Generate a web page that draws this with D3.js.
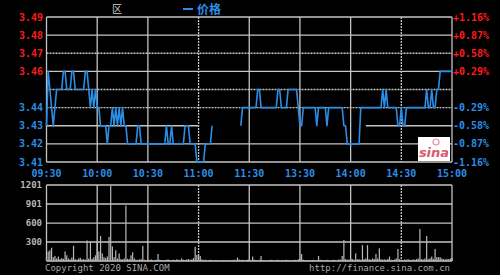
<!DOCTYPE html>
<html>
<head>
<meta charset="utf-8">
<script src="https://cdn.jsdelivr.net/npm/d3@7"></script>
<style>
  html, body { margin: 0; padding: 0; background: #000; }
  svg { display: block; }
</style>
</head>
<body>
<script>
// minute index 0..240 (09:30-11:30, 13:00-15:00)
var timeTicks = [0, 30, 60, 90, 120, 150, 180, 210, 240];
var timeLabels = ["09:30", "10:00", "10:30", "11:00", "11:30", "13:30", "14:00", "14:30", "15:00"];
var priceTicks = [3.49, 3.48, 3.47, 3.46, 3.45, 3.44, 3.43, 3.42, 3.41];
var priceLabels = ["3.49", "3.48", "3.47", "3.46", "", "3.44", "3.43", "3.42", "3.41"];
var pctLabels = ["+1.16%", "+0.87%", "+0.58%", "+0.29%", "", "-0.29%", "-0.58%", "-0.87%", "-1.16%"];
var dottedPrices = [3.47, 3.45, 3.44];
var dottedTimes = [90, 210];
var gapLevel = 3.43, gapRange = [90, 189];
var volTicks = [1201, 901, 600, 300];
var prevClose = 3.45;

var price = [
  3.43, 3.46, 3.45, 3.44, 3.43, 3.44, 3.45, 3.45, 3.45, 3.45,
  3.46, 3.46, 3.45, 3.45, 3.45, 3.46, 3.46, 3.45, 3.45, 3.45,
  3.45, 3.45, 3.45, 3.46, 3.46, 3.45, 3.44, 3.45, 3.44, 3.45,
  3.44, 3.44, 3.43, 3.43, 3.43, 3.43, 3.42, 3.43, 3.43, 3.44,
  3.43, 3.44, 3.43, 3.44, 3.43, 3.44, 3.43, 3.43, 3.42, 3.42,
  3.42, 3.42, 3.42, 3.42, 3.43, 3.43, 3.42, 3.42, 3.42, 3.42,
  3.42, 3.42, 3.42, 3.42, 3.42, 3.42, 3.42, 3.42, 3.42, 3.42,
  3.42, 3.43, 3.42, 3.42, 3.43, 3.42, 3.42, 3.42, 3.42, 3.42,
  3.42, 3.42, 3.43, 3.43, 3.43, 3.42, 3.42, 3.42, 3.42, 3.41,
  3.41, 3.41, 3.41, 3.41, 3.42, 3.42, 3.42, 3.42, 3.43, null,
  null, null, null, null, null, null, null, null, null, null,
  null, null, null, null, null, 3.43, 3.44, 3.44, 3.44, 3.44,
  3.44, 3.44, 3.44, 3.44, 3.44, 3.45, 3.45, 3.44, 3.44, 3.44,
  3.44, 3.44, 3.44, 3.44, 3.44, 3.44, 3.44, 3.45, 3.45, 3.44,
  3.44, 3.44, 3.44, 3.45, 3.45, 3.45, 3.45, 3.45, 3.45, 3.44,
  3.43, 3.43, 3.44, 3.44, 3.44, 3.44, 3.44, 3.44, 3.44, 3.44,
  3.43, 3.44, 3.44, 3.44, 3.44, 3.44, 3.43, 3.44, 3.44, 3.44,
  3.44, 3.44, 3.44, 3.44, 3.44, 3.44, 3.43, 3.43, 3.42, 3.42,
  3.42, 3.42, 3.42, 3.42, 3.42, 3.42, 3.44, 3.44, 3.44, 3.44,
  3.44, 3.44, 3.44, 3.44, 3.44, 3.44, 3.44, 3.44, 3.44, 3.45,
  3.44, 3.45, 3.44, 3.44, 3.44, 3.44, 3.44, 3.44, 3.43, 3.43,
  3.44, 3.43, 3.43, 3.44, 3.44, 3.44, 3.44, 3.44, 3.44, 3.44,
  3.44, 3.44, 3.44, 3.44, 3.44, 3.45, 3.44, 3.44, 3.45, 3.44,
  3.44, 3.45, 3.45, 3.46, 3.46, 3.46, 3.46, 3.46, 3.46, 3.46,
  3.46
];

var volume = [
  60, 150, 170, 210, 60, 80, 40, 70, 30, 45,
  35, 150, 90, 40, 25, 55, 240, 30, 20, 40,
  50, 25, 30, 20, 325, 40, 310, 35, 60, 90,
  280, 150, 395, 120, 60, 45, 70, 380, 1190, 230,
  60, 170, 40, 120, 30, 25, 40, 875, 35, 30,
  90, 137, 40, 20, 15, 25, 30, 240, 20, 15,
  20, 15, 25, 10, 15, 20, 110, 20, 15, 10,
  15, 20, 25, 15, 10, 20, 15, 25, 20, 15,
  42, 20, 15, 25, 30, 20, 25, 45, 225, 95,
  95, 80, 25, 15, 20, 10, 15, 20, 10, 15,
  10, 15, 10, 5, 10, 15, 10, 5, 10, 15,
  10, 20, 15, 53, 25, 15, 20, 10, 15, 20,
  25, 15, 70, 20, 15, 10, 20, 80, 15, 10,
  10, 15, 10, 20, 15, 10, 15, 20, 10, 15,
  10, 15, 20, 10, 15, 10, 15, 20, 10, 25,
  30, 110, 20, 15, 10, 15, 10, 15, 20, 10,
  15, 80, 20, 10, 15, 10, 20, 15, 10, 15,
  20, 15, 10, 25, 20, 80, 330, 30, 20, 25,
  40, 30, 20, 120, 25, 30, 20, 250, 30, 40,
  250, 30, 20, 40, 30, 110, 40, 200, 30, 20,
  25, 20, 30, 70, 20, 15, 25, 40, 190, 30,
  20, 15, 25, 20, 30, 20, 15, 25, 20, 30,
  40, 505, 30, 25, 40, 395, 30, 45, 70, 35,
  190, 60, 60, 60, 40, 30, 25, 35, 30, 40,
  50
];

var W = 500, H = 275;
var gridColor = "#c4c4c4", blue = "#2b8ee6", red = "#ff1a1a", grey = "#b8b8b8";
var mono = "'DejaVu Sans Mono', monospace";

var svg = d3.select("body").append("svg")
    .attr("width", W)
    .attr("height", H)
    .style("background", "#000");

var x = d3.scaleLinear().domain([0, 240]).range([46.5, 452]);
var y = d3.scaleLinear().domain([3.41, 3.49]).range([162, 17]);
var yv = d3.scaleLinear().domain([0, 1201]).range([261, 185]);

// ---- price grid
var grid = svg.append("g")
    .attr("stroke", gridColor)
    .attr("stroke-width", 1.3);

priceTicks.forEach(function (p) {
    var segs = [[0, 240]];
    if (p === gapLevel) segs = [[0, gapRange[0]], [gapRange[1], 240]];
    segs.forEach(function (s) {
        grid.append("line")
            .attr("x1", x(s[0])).attr("x2", x(s[1]))
            .attr("y1", y(p)).attr("y2", y(p))
            .attr("stroke-dasharray", dottedPrices.indexOf(p) >= 0 ? "2,1" : null);
    });
});

timeTicks.forEach(function (t) {
    var dotted = dottedTimes.indexOf(t) >= 0 ? "2,1" : null;
    grid.append("line")
        .attr("x1", x(t)).attr("x2", x(t))
        .attr("y1", y(3.49)).attr("y2", y(3.41))
        .attr("stroke-dasharray", dotted);
    grid.append("line")
        .attr("x1", x(t)).attr("x2", x(t))
        .attr("y1", yv(1201)).attr("y2", yv(0))
        .attr("stroke-dasharray", dotted);
});

// volume grid
volTicks.concat([0]).forEach(function (v) {
    grid.append("line")
        .attr("x1", x(0)).attr("x2", x(240))
        .attr("y1", yv(v)).attr("y2", yv(v));
});

// ---- volume bars
svg.append("g").selectAll("rect")
    .data(volume)
    .enter().append("rect")
    .attr("x", function (d, i) { return x(i) - 0.6; })
    .attr("width", 1.2)
    .attr("y", function (d) { return yv(d); })
    .attr("height", function (d) { return yv(0) - yv(d); })
    .attr("fill", grey);

// ---- price line
var line = d3.line()
    .defined(function (d) { return d !== null; })
    .x(function (d, i) { return x(i); })
    .y(function (d) { return y(d); });

svg.append("path")
    .datum(price)
    .attr("d", line)
    .attr("fill", "none")
    .attr("stroke", blue)
    .attr("stroke-width", 1.6)
    .attr("stroke-linejoin", "round");

// ---- axis labels
function colorFor(p) { return p > prevClose ? red : blue; }

svg.append("g").selectAll("text")
    .data(priceTicks)
    .enter().append("text")
    .attr("x", 43)
    .attr("y", function (d) { return y(d); })
    .attr("dy", "0.35em")
    .attr("text-anchor", "end")
    .style("font", "bold 10px " + mono)
    .attr("fill", colorFor)
    .text(function (d, i) { return priceLabels[i]; });

svg.append("g").selectAll("text")
    .data(priceTicks)
    .enter().append("text")
    .attr("x", 453)
    .attr("y", function (d) { return y(d); })
    .attr("dy", "0.35em")
    .style("font", "bold 10px " + mono)
    .attr("fill", colorFor)
    .text(function (d, i) { return pctLabels[i]; });

svg.append("g").selectAll("text")
    .data(timeTicks)
    .enter().append("text")
    .attr("x", function (d) { return x(d); })
    .attr("y", 177)
    .attr("text-anchor", "middle")
    .style("font", "bold 10px " + mono)
    .attr("fill", blue)
    .text(function (d, i) { return timeLabels[i]; });

svg.append("g").selectAll("text")
    .data(volTicks)
    .enter().append("text")
    .attr("x", 42)
    .attr("y", function (d) { return yv(d); })
    .attr("dy", "0.35em")
    .attr("text-anchor", "end")
    .style("font", "bold 9px " + mono)
    .attr("fill", grey)
    .text(function (d) { return d; });

// ---- title & legend
svg.append("text")
    .attr("x", 112).attr("y", 13)
    .style("font", "10px 'Noto Sans CJK SC', sans-serif")
    .attr("fill", "#d0d0d0")
    .text("区");

svg.append("line")
    .attr("x1", 183).attr("x2", 193)
    .attr("y1", 9).attr("y2", 9)
    .attr("stroke", blue)
    .attr("stroke-width", 2);

svg.append("text")
    .attr("x", 197).attr("y", 14)
    .style("font", "bold 12px 'Noto Sans CJK SC', sans-serif")
    .attr("fill", blue)
    .text("价格");

// ---- footer
svg.append("text")
    .attr("x", 45).attr("y", 271)
    .style("font", "9px " + mono)
    .attr("fill", "#a8a8a8")
    .text("Copyright 2020 SINA.COM");

svg.append("text")
    .attr("x", 450).attr("y", 271)
    .attr("text-anchor", "end")
    .style("font", "9px " + mono)
    .attr("fill", "#a8a8a8")
    .text("http://finance.sina.com.cn");

// ---- sina logo
var logo = svg.append("g");
logo.append("rect")
    .attr("x", 418).attr("y", 137)
    .attr("width", 32).attr("height", 24)
    .attr("fill", "#fff");
logo.append("circle")
    .attr("cx", 436).attr("cy", 142)
    .attr("r", 3)
    .attr("fill", "none")
    .attr("stroke", "#e8909a")
    .attr("stroke-width", 1.2);
logo.append("text")
    .attr("x", 434).attr("y", 157)
    .attr("text-anchor", "middle")
    .style("font", "italic bold 13px 'DejaVu Sans', sans-serif")
    .attr("fill", "#d95a6a")
    .text("sina");
</script>
</body>
</html>
